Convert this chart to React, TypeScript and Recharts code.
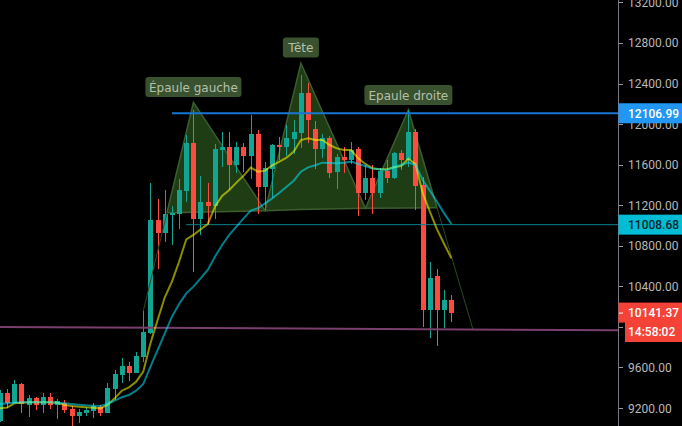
import {
  Area,
  Bar,
  ComposedChart,
  Line,
  ReferenceDot,
  XAxis,
  YAxis,
} from "recharts"

// candles, one entry per session, oldest first
const opens = [
  9076, 9345, 9247, 9434, 9230, 9299, 9233, 9309, 9233, 9253, 9191, 9122, 9151, 9174, 9214, 9151,
  9388, 9526, 9615, 9546, 9703, 9940, 11055, 10926, 11104, 11114, 11341, 11814, 11064, 11232, 11193, 11745,
  11774, 11597, 11774, 11686, 11903, 11380, 11557, 11794, 11774, 11853, 11912, 12307, 11952, 11755, 11863, 11528,
  11676, 11646, 11755, 11321, 11469, 11321, 11538, 11469, 11715, 11646, 11922, 11400, 10167, 10502, 10167, 10266,
]
const highs = [
  9378, 9388, 9477, 9447, 9329, 9312, 9348, 9348, 9289, 9276, 9220, 9187, 9210, 9250, 9227, 9447,
  9575, 9693, 9654, 9753, 10157, 11416, 11262, 11350, 11193, 11459, 11893, 12139, 11488, 11419, 11804, 11922,
  11922, 11824, 11814, 12090, 11942, 11626, 11804, 11873, 11991, 12041, 12484, 12405, 12031, 11903, 11883, 11705,
  11774, 11824, 11774, 11597, 11597, 11567, 11646, 11725, 11745, 12139, 11952, 11479, 10640, 10571, 10364, 10315,
]
const lows = [
  9066, 9197, 9247, 9148, 9112, 9181, 9148, 9191, 9092, 9151, 9023, 9053, 9122, 9102, 9122, 9151,
  9279, 9447, 9467, 9546, 9654, 9930, 10571, 10838, 10808, 10966, 11232, 10542, 10907, 11005, 11064, 11577,
  11350, 11518, 11528, 11459, 11114, 11153, 11272, 11646, 11686, 11705, 11765, 11814, 11557, 11666, 11469, 11360,
  11518, 11607, 11094, 11252, 11114, 11272, 11419, 11459, 11548, 11577, 11153, 10003, 9891, 9812, 9989, 10049,
]
const closes = [
  9345, 9247, 9434, 9237, 9299, 9233, 9309, 9233, 9266, 9181, 9122, 9161, 9178, 9220, 9151, 9398,
  9536, 9615, 9546, 9713, 9950, 11055, 10926, 11114, 11124, 11350, 11814, 11064, 11232, 11193, 11755, 11774,
  11597, 11774, 11686, 11903, 11380, 11567, 11794, 11774, 11863, 11922, 12307, 12037, 11755, 11863, 11518, 11676,
  11646, 11745, 11321, 11469, 11321, 11538, 11469, 11715, 11646, 11922, 11390, 10167, 10482, 10167, 10266, 10141,
]

// moving averages
const fastMa = [
  9197, 9204, 9247, 9253, 9256, 9256, 9256, 9256, 9253, 9230, 9220, 9214, 9207, 9204, 9197, 9230,
  9296, 9371, 9404, 9460, 9559, 9838, 10068, 10292, 10446, 10644, 10864, 10907, 10962, 11015, 11186, 11291,
  11350, 11423, 11492, 11571, 11531, 11541, 11594, 11630, 11669, 11730, 11843, 11860, 11843, 11843, 11794, 11761,
  11745, 11745, 11663, 11607, 11564, 11554, 11554, 11574, 11587, 11659, 11607, 11320, 11137, 10962, 10818, 10676,
]
const slowMa = [
  9240, 9247, 9253, 9256, 9256, 9256, 9256, 9256, 9253, 9247, 9240, 9233, 9227, 9223, 9220, 9240,
  9273, 9306, 9329, 9371, 9437, 9608, 9772, 9937, 10101, 10226, 10331, 10397, 10479, 10562, 10693, 10808,
  10907, 10989, 11071, 11147, 11170, 11219, 11268, 11324, 11383, 11442, 11531, 11574, 11594, 11620, 11617, 11613,
  11620, 11630, 11607, 11587, 11561, 11554, 11548, 11574, 11597, 11620, 11597, 11449, 11344, 11235, 11120, 11015,
]

// head and shoulders drawing
const patternX = [23.3, 27, 37, 42, 51, 57, 61]
const patternTop = [11126, 12215, 11146, 12600, 11170, 12139, 11176]
const patternNeck = [11126, 11130, 11146, 11158, 11170, 11173, 11176]
const leftLegX = [20, 23.3]
const leftLegY = [10157, 11126]
const rightLegX = [61, 66]
const rightLegY = [11176, 9979]

const annotationText = ["Épaule gauche", "Tête", "Epaule droite"]
const annotationX = [27, 42, 57]
const annotationY = [12366, 12756, 12287]

// levels
const xMax = 86.33
const resistance = 12106.99
const resistanceFrom = 24
const neckLevel = 11008.68
const neckLevelFrom = 26
const supportX = [0, xMax]
const supportY = [9999, 9967]

const priceTicks = [13200, 12800, 12400, 12000, 11600, 11200, 10800, 10400, 10000, 9600, 9200]
const lastPrice = 10141.37
const countdownPrice = 9950
const countdownLabel = "14:58:02"

const candles = opens.map((open, i) => ({
  x: i,
  open,
  high: highs[i],
  low: lows[i],
  close: closes[i],
}))
const toPoints = (xs: number[], ys: number[]) => xs.map((x, i) => ({ x, value: ys[i] }))
const patternPoints = patternX.map((x, i) => ({ x, range: [patternNeck[i], patternTop[i]] }))

const UP = "#12a594"
const DOWN = "#ff4a3f"
const FONT = "Roboto, sans-serif"
const annotationWidths = [96, 36, 88]

function Candle(props: any) {
  const { x, y, width, height, payload } = props
  const up = payload.close >= payload.open
  const color = up ? UP : DOWN
  const perUnit = height / (payload.high - payload.low)
  const cx = Math.round(x + width / 2)
  const top = y + (payload.high - Math.max(payload.open, payload.close)) * perUnit
  const bottom = y + (payload.high - Math.min(payload.open, payload.close)) * perUnit
  return (
    <g shapeRendering="crispEdges">
      <rect x={cx} y={y} width={1} height={height} fill={color} />
      <rect x={cx - 2} y={top} width={5} height={Math.max(bottom - top, 1)} fill={color} />
    </g>
  )
}

function PriceTick(props: any) {
  const { y, payload } = props
  const v = payload.value
  const tag = (fill: string, label: string, color: string, left = 618.5) => (
    <g>
      <rect x={left} y={y - 10} width={682 - left} height={20} fill={fill} />
      <text x={628} y={y + 4.5} fill={color} fontFamily={FONT} fontSize={12} fontWeight={500}>
        {label}
      </text>
    </g>
  )
  if (v === resistance) return tag("#2196f3", v.toFixed(2), "#ffffff")
  if (v === neckLevel) return tag("#00bcd4", v.toFixed(2), "#10262b")
  if (v === lastPrice)
    return (
      <g>
        {tag("#f44336", v.toFixed(2), "#ffffff")}
        <rect x={619} y={y} width={4} height={1} fill="#ffffff" />
      </g>
    )
  if (v === countdownPrice) return tag("#f44336", countdownLabel, "#ffffff", 625)
  return (
    <g>
      <rect x={619} y={Math.round(y)} width={4} height={1} fill="#9598a1" />
      {/* 10000 sits completely behind the two red tags */}
      {v !== 10000 && (
        <text x={628} y={y + 4.5} fill="#b8b8b8" fontFamily={FONT} fontSize={12}>
          {v.toFixed(2)}
        </text>
      )}
    </g>
  )
}

function Annotation(props: any) {
  const { cx, cy, text, width } = props
  return (
    <g>
      <rect x={cx - width / 2} y={cy - 10} width={width} height={20} rx={3} fill="#39512e" />
      <text
        x={cx}
        y={cy + 4.5}
        textAnchor="middle"
        fill="#b5c0aa"
        fontFamily="DejaVu Sans, sans-serif"
        fontSize={12}
      >
        {text}
      </text>
    </g>
  )
}

export default function App() {
  return (
    <div style={{ position: "absolute", left: 0, top: 0, width: 682, height: 426, background: "#000" }}>
      <ComposedChart
        width={682}
        height={426}
        data={candles}
        margin={{ top: 0, right: 0, bottom: 0, left: 0 }}
      >
        <XAxis dataKey="x" type="number" domain={[0, xMax]} hide allowDataOverflow />
        <YAxis
          orientation="right"
          width={63.5}
          domain={[9023, 13224]}
          ticks={[...priceTicks, resistance, neckLevel, lastPrice, countdownPrice]}
          interval={0}
          allowDataOverflow
          tickLine={false}
          tickSize={0}
          tick={<PriceTick />}
          stroke="#787b86"
        />
        <Area
          data={patternPoints}
          dataKey="range"
          type="linear"
          fill="#1f3d14"
          fillOpacity={1}
          stroke="#3d5c2f"
          strokeWidth={1.5}
          dot={false}
          activeDot={false}
          isAnimationActive={false}
        />
        <Line
          data={toPoints(leftLegX, leftLegY)}
          dataKey="value"
          stroke="#2f4a22"
          strokeWidth={1}
          dot={false}
          activeDot={false}
          isAnimationActive={false}
        />
        <Line
          data={toPoints(rightLegX, rightLegY)}
          dataKey="value"
          stroke="#2f4a22"
          strokeWidth={1}
          dot={false}
          activeDot={false}
          isAnimationActive={false}
        />
        <Line
          data={toPoints([resistanceFrom, xMax], [resistance, resistance])}
          dataKey="value"
          stroke="#1976d2"
          strokeWidth={2}
          dot={false}
          activeDot={false}
          isAnimationActive={false}
        />
        <Line
          data={toPoints([neckLevelFrom, xMax], [neckLevel, neckLevel])}
          dataKey="value"
          stroke="#0a7f8c"
          strokeWidth={1}
          dot={false}
          activeDot={false}
          isAnimationActive={false}
        />
        <Line
          data={toPoints(supportX, supportY)}
          dataKey="value"
          stroke="#7a3f6c"
          strokeWidth={2}
          dot={false}
          activeDot={false}
          isAnimationActive={false}
        />
        <Bar
          dataKey={(d: any) => [d.low, d.high]}
          barSize={5}
          shape={<Candle />}
          isAnimationActive={false}
        />
        <Line
          data={toPoints(candles.map((c) => c.x), fastMa)}
          dataKey="value"
          stroke="#ffff00"
          strokeOpacity={0.55}
          strokeWidth={2}
          dot={false}
          activeDot={false}
          isAnimationActive={false}
        />
        <Line
          data={toPoints(candles.map((c) => c.x), slowMa)}
          dataKey="value"
          stroke="#00e5ff"
          strokeOpacity={0.55}
          strokeWidth={2}
          dot={false}
          activeDot={false}
          isAnimationActive={false}
        />
        {annotationText.map((text, i) => (
          <ReferenceDot
            key={text}
            x={annotationX[i]}
            y={annotationY[i]}
            ifOverflow="visible"
            shape={(p: any) => <Annotation {...p} text={text} width={annotationWidths[i]} />}
          />
        ))}
      </ComposedChart>
    </div>
  )
}
